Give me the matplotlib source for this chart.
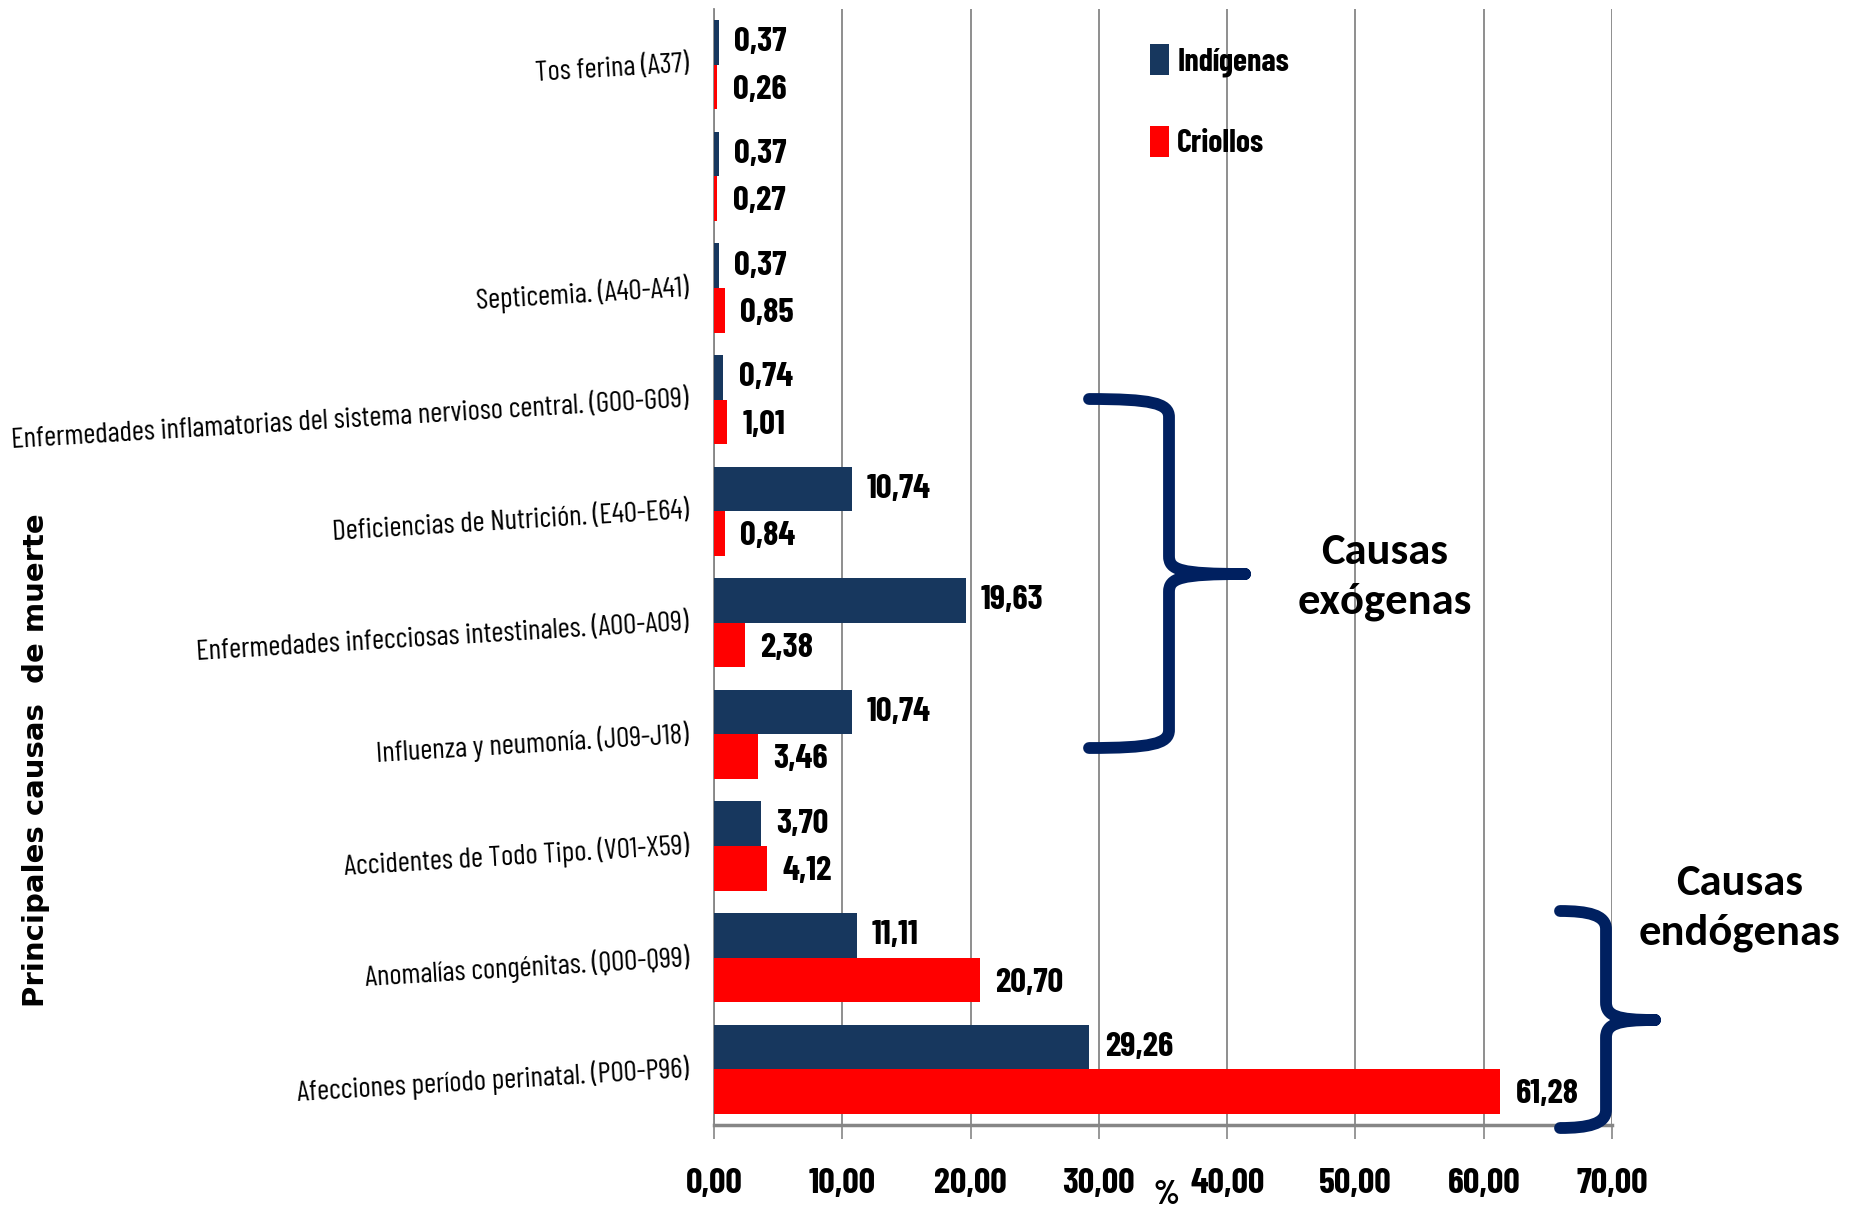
import numpy as np
import matplotlib
matplotlib.use("Agg")
import matplotlib.pyplot as plt
from matplotlib.path import Path
from matplotlib.patches import PathPatch
from matplotlib import font_manager as fm

# datos (de arriba hacia abajo)
causas = ["Tos ferina (A37)",
          "",
          "Septicemia. (A40-A41)",
          "Enfermedades inflamatorias del sistema nervioso central. (G00-G09)",
          "Deficiencias de Nutrición. (E40-E64)",
          "Enfermedades infecciosas intestinales. (A00-A09)",
          "Influenza y neumonía. (J09-J18)",
          "Accidentes de Todo Tipo. (V01-X59)",
          "Anomalías congénitas. (Q00-Q99)",
          "Afecciones período perinatal. (P00-P96)"]
indigenas = [0.37, 0.37, 0.37, 0.74, 10.74, 19.63, 10.74, 3.70, 11.11, 29.26]
criollos = [0.26, 0.27, 0.85, 1.01, 0.84, 2.38, 3.46, 4.12, 20.70, 61.28]
xticks = [0, 10, 20, 30, 40, 50, 60, 70]

W, H = 1856, 1207
disponibles = {f.name for f in fm.fontManager.ttflist}
candidatas = ["Barlow Condensed", "Barlow Semi Condensed", "Roboto Condensed"]
angosta = next((c for c in candidatas if c in disponibles), "DejaVu Sans")
NARROW = [angosta, "DejaVu Sans"]
AZUL = "#17375E"
ROJO = "#FF0000"
LLAVE = "#002060"


def fx(x):
    return x / W


def fy(y):
    return 1 - y / H


fig = plt.figure(figsize=(W / 100, H / 100), dpi=100, facecolor="white")
ax = fig.add_axes([fx(714), fy(1125), fx(1612) - fx(714), fy(9) - fy(1125)])

n = len(causas)
y = np.arange(n)[::-1]
b1 = ax.barh(y + 0.2, indigenas, height=0.4, color=AZUL, label="Indígenas", zorder=3)
b2 = ax.barh(y - 0.2, criollos, height=0.4, color=ROJO, label="Criollos", zorder=3)

# etiquetas de valores
for yy, v in zip(y + 0.2, indigenas):
    ax.annotate(f"{v:.2f}".replace(".", ","), (v, yy), xytext=(11, 0), textcoords="offset points",
                ha="left", va="center", fontsize=25, fontweight="bold", family=NARROW)
for yy, v in zip(y - 0.2, criollos):
    ax.annotate(f"{v:.2f}".replace(".", ","), (v, yy), xytext=(11, -2), textcoords="offset points",
                ha="left", va="center", fontsize=25, fontweight="bold", family=NARROW)

ax.set_xlim(0, 70)
ax.set_ylim(-0.5, n - 0.5)
ax.set_xticks(xticks)
ax.set_xticklabels([f"{t:.2f}".replace(".", ",") for t in xticks], fontsize=26,
                   fontweight="bold", family=NARROW)
ax.tick_params(axis="x", direction="out", length=10, width=1.2, color="#868686", pad=21)
ax.set_yticks(y)
ax.set_yticklabels(causas, fontsize=21, family=NARROW, rotation=3.5,
                   rotation_mode="anchor", ha="right", va="center")
ax.tick_params(axis="y", length=0, pad=18)
ax.grid(axis="x", color="#868686", lw=1.3, zorder=0)
for s in ["top", "right"]:
    ax.spines[s].set_visible(False)
ax.spines["left"].set_color("#868686")
ax.spines["left"].set_linewidth(1.3)
ax.spines["bottom"].set_color("#868686")
ax.spines["bottom"].set_linewidth(2.5)

ax.legend(handles=[b1, b2], loc="upper left", bbox_to_anchor=(fx(1150), fy(44)),
          bbox_transform=fig.transFigure, frameon=False, handlelength=0.6,
          handleheight=1.1, handletextpad=0.25, labelspacing=1.55, borderpad=0,
          borderaxespad=0, prop={"family": NARROW, "weight": "bold", "size": 23})

fig.text(fx(36), fy(760), "Principales causas  de muerte", rotation=90, ha="center",
         va="center", fontsize=21, fontweight="bold", family="DejaVu Sans")
fig.text(fx(1166), fy(1195), "%", ha="center", va="center", fontsize=24,
         fontweight="bold", family=NARROW)


def llave(xl, xv, xt, y0, y1, ym, r=18):
    codes = [Path.MOVETO, Path.CURVE4, Path.CURVE4, Path.CURVE4,
             Path.LINETO, Path.CURVE4, Path.CURVE4, Path.CURVE4,
             Path.MOVETO, Path.CURVE4, Path.CURVE4, Path.CURVE4,
             Path.LINETO, Path.CURVE4, Path.CURVE4, Path.CURVE4]
    pts = [(xl, y0), (xv - r, y0), (xv, y0 + 4), (xv, y0 + r),
           (xv, ym - r), (xv, ym - 4), (xv + r * 0.6, ym), (xt, ym),
           (xt, ym), (xv + r * 0.6, ym), (xv, ym + 4), (xv, ym + r),
           (xv, y1 - r), (xv, y1 - 4), (xv - r, y1), (xl, y1)]
    verts = [(fx(a), fy(b)) for a, b in pts]
    p = PathPatch(Path(verts, codes), transform=fig.transFigure, fill=False,
                  edgecolor=LLAVE, lw=8.5, capstyle="round", joinstyle="round")
    fig.add_artist(p)


llave(1089, 1169, 1245, 399, 748, 574)
llave(1560, 1606, 1655, 911, 1128, 1020)

fig.text(fx(1385), fy(577), "Causas\nexógenas", ha="center", va="center", fontsize=32,
         fontweight="bold", family=["Carlito", "Lato"], linespacing=1.4)
fig.text(fx(1740), fy(908), "Causas\nendógenas", ha="center", va="center", fontsize=32,
         fontweight="bold", family=["Carlito", "Lato"], linespacing=1.4)

fig.savefig("out.png", dpi=100, facecolor="white")
